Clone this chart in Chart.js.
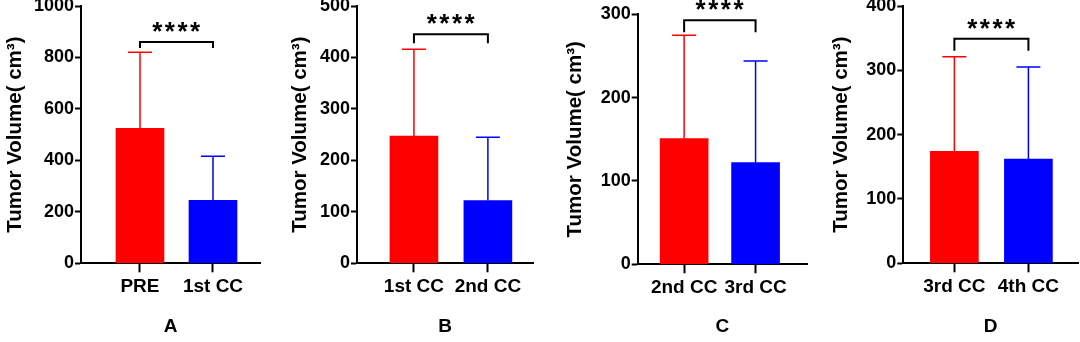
<!DOCTYPE html>
<html lang="en">
<head>
  <meta charset="UTF-8">
  <title>Tumor Volume</title>
  <script src="https://cdn.jsdelivr.net/npm/chart.js"></script>
  <style>
    body { margin: 0; background: #fff; }
    #wrap { position: relative; width: 1080px; height: 342px; overflow: hidden; }
    #wrap canvas { position: absolute; top: 0; }
  </style>
</head>
<body>
  <div id="wrap"></div>

  <script>
    // data
    const panelLetters = ["A", "B", "C", "D"];
    const groupLabels = [
      ["PRE", "1st CC"],
      ["1st CC", "2nd CC"],
      ["2nd CC", "3rd CC"],
      ["3rd CC", "4th CC"]
    ];
    const meanValues = [[525, 245], [247, 122], [151, 122], [174, 162]];
    const sdValues = [[295, 171], [169, 123], [124, 122], [147, 143]];
    const yMaxValues = [1000, 500, 300, 400];
    const yStepValues = [200, 100, 100, 100];
    const bracketValues = [860, 445, 293, 349];
    const sigText = "****";
    const barColors = ["#ff0000", "#0000ff"];
    const yTitle = "Tumor Volume( cm³)";

    // where each panel sits in the 1080x342 picture
    const layout = [
      { left: 0,   width: 270, axisX: 81,    top: 6,    zero: 263.3, right: 260,  xMin: -0.808, xMax: 1.644, titlePad: 2.7,  leg: 6 },
      { left: 270, width: 270, axisX: 357,   top: 6,    zero: 263.3, right: 533,  xMin: -0.77,  xMax: 1.61,  titlePad: 17.7, leg: 9 },
      { left: 540, width: 270, axisX: 637.7, top: 14.3, zero: 264.3, right: 807,  xMin: -0.65,  xMax: 1.72,  titlePad: 22.7, leg: 12 },
      { left: 810, width: 270, axisX: 903.3, top: 6,    zero: 263.3, right: 1078, xMin: -0.69,  xMax: 1.67,  titlePad: 19.2, leg: 12 }
    ];

    const FONT = "'Liberation Sans', Arial, Helvetica, sans-serif";

    // error bars (upper only) + significance bracket
    const extras = {
      id: "extras",
      afterDatasetsDraw(chart, args, opts) {
        const ctx = chart.ctx;
        const ys = chart.scales.y;
        const meta = chart.getDatasetMeta(0);
        const ds = chart.data.datasets[0];
        ctx.save();
        meta.data.forEach((bar, i) => {
          const top = ys.getPixelForValue(ds.data[i].y + opts.sd[i]);
          ctx.strokeStyle = ds.backgroundColor[i];
          ctx.lineWidth = 1.5;
          ctx.beginPath();
          ctx.moveTo(bar.x, bar.y);
          ctx.lineTo(bar.x, top);
          ctx.moveTo(bar.x - 12, top);
          ctx.lineTo(bar.x + 12, top);
          ctx.stroke();
        });

        const x0 = meta.data[0].x, x1 = meta.data[1].x;
        const by = ys.getPixelForValue(opts.bracket);
        ctx.strokeStyle = "#000";
        ctx.lineWidth = 2;
        ctx.beginPath();
        ctx.moveTo(x0, by + opts.leg);
        ctx.lineTo(x0, by);
        ctx.lineTo(x1, by);
        ctx.lineTo(x1, by + opts.leg);
        ctx.stroke();

        ctx.fillStyle = "#000";
        ctx.font = "bold 26px " + FONT;
        ctx.letterSpacing = "2.5px";
        ctx.textAlign = "center";
        ctx.textBaseline = "alphabetic";
        const m = ctx.measureText(opts.text);
        const inkMid = (m.actualBoundingBoxAscent - m.actualBoundingBoxDescent) / 2;
        ctx.fillText(opts.text, (x0 + x1) / 2 + 1, by - 15 + inkMid);
        ctx.restore();
      }
    };

    function drawPanel(p) {
      const L = layout[p];
      const canvas = document.createElement("canvas");
      canvas.width = L.width;
      canvas.height = 342;
      canvas.style.left = L.left + "px";
      document.getElementById("wrap").appendChild(canvas);

      new Chart(canvas.getContext("2d"), {
        type: "bar",
        data: {
          datasets: [{
            data: meanValues[p].map((v, i) => ({ x: i, y: v })),
            backgroundColor: barColors,
            borderWidth: 0,
            barThickness: 48
          }]
        },
        plugins: [extras],
        options: {
          responsive: false,
          animation: false,
          layout: { padding: { left: 0, top: L.top, right: L.left + L.width - L.right, bottom: 0 } },
          plugins: {
            legend: { display: false },
            tooltip: { enabled: false },
            extras: { sd: sdValues[p], bracket: bracketValues[p], leg: L.leg, text: sigText }
          },
          scales: {
            x: {
              type: "linear",
              min: L.xMin,
              max: L.xMax,
              offset: false,
              afterBuildTicks: s => { s.ticks = [{ value: 0 }, { value: 1 }]; },
              afterFit: s => {
                s.height = 342 - L.zero;
                s.paddingLeft = 0; s.paddingRight = 0;
              },
              ticks: {
                callback: v => groupLabels[p][v],
                color: "#000",
                font: { family: FONT, size: 19, weight: "bold" },
                padding: 3,
                maxRotation: 0,
                autoSkip: false
              },
              grid: { offset: false, drawOnChartArea: false, drawTicks: true, tickLength: 9, tickWidth: 2, tickColor: "#000" },
              border: { color: "#000", width: 2 },
              title: {
                display: true,
                text: panelLetters[p],
                color: "#000",
                font: { family: FONT, size: 19, weight: "bold" },
                padding: { top: 0, bottom: 4 }
              }
            },
            y: {
              min: 0,
              max: yMaxValues[p],
              afterFit: s => {
                s.width = L.axisX - L.left;
                s.paddingTop = 0; s.paddingBottom = 0;
              },
              ticks: {
                stepSize: yStepValues[p],
                callback: v => String(v),
                color: "#000",
                font: { family: FONT, size: 18, weight: "bold" },
                padding: 1
              },
              grid: { drawOnChartArea: false, drawTicks: true, tickLength: 6, tickWidth: 2, tickColor: "#000" },
              border: { color: "#000", width: 2 },
              title: {
                display: true,
                text: yTitle,
                color: "#000",
                font: { family: FONT, size: 20.5, weight: "bold" },
                padding: { top: L.titlePad, bottom: 0 }
              }
            }
          }
        }
      });
    }

    document.addEventListener("DOMContentLoaded", () => {
      for (let p = 0; p < 4; p++) drawPanel(p);
    });
  </script>
</body>
</html>
